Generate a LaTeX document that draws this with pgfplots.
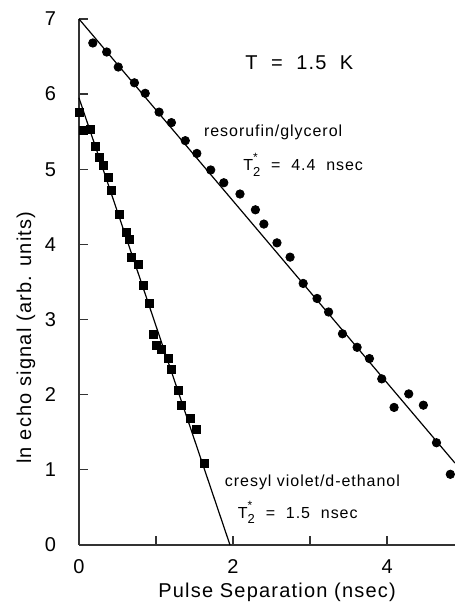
\documentclass[border=0pt]{standalone}
\usepackage{fontspec}
\setmainfont{Liberation Sans}[LetterSpace=6]
\usepackage{pgfplots}
\pgfplotsset{compat=1.18}

% T_2^* with the star stacked above the subscript
\newcommand{\Ttwo}{T\rlap{\raisebox{1.05ex}{\fontsize{6}{6}\selectfont *}}\raisebox{-0.65ex}{\fontsize{6.5}{6.5}\selectfont 2}}

\begin{document}
\begin{tikzpicture}
\begin{axis}[
  scale only axis,
  width=188pt, height=263pt,
  xmin=0, xmax=4.88, ymin=0, ymax=7,
  axis x line=bottom, axis y line=left,
  axis line style={-, draw=black!80, line width=0.8pt},
  tick align=inside,
  major tick length=4.5pt,
  tick style={draw=black!80, line width=0.7pt},
  xtick={0,1,2,3,4}, xticklabels={0,,2,,4},
  ytick={0,1,2,3,4,5,6,7},
  /pgf/number format/assume math mode=true,
  ticklabel style={font=\fontsize{10}{12}\selectfont},
  yticklabel style={xshift=-8pt},
  xticklabel style={yshift=-4pt},
  xlabel={Pulse Separation (nsec)},
  ylabel={ln echo signal (arb. units)},
  label style={font=\fontsize{10}{12}\selectfont},
  xlabel style={at={(rel axis cs:0.527,-0.091)}, anchor=center},
  ylabel style={at={(rel axis cs:-0.141,0.394)}, anchor=center},
  clip=false,
]
% resorufin/glycerol
\addplot[only marks, mark=*, mark size=2.1pt, black] coordinates {
  (0.18,6.68) (0.36,6.56) (0.51,6.36) (0.72,6.15) (0.86,6.01) (1.04,5.76)
  (1.20,5.62) (1.38,5.38) (1.53,5.21) (1.71,4.99) (1.88,4.82) (2.09,4.67)
  (2.29,4.46) (2.40,4.27) (2.57,4.02) (2.74,3.83) (2.91,3.48) (3.09,3.28)
  (3.24,3.10) (3.42,2.81) (3.61,2.63) (3.77,2.48) (3.93,2.21) (4.09,1.83)
  (4.28,2.01) (4.47,1.86) (4.64,1.36) (4.82,0.94)
};
\addplot[black, line width=0.6pt] coordinates {(0,7) (4.88,1.09)};
% cresyl violet/d-ethanol
\addplot[only marks, mark=square*, mark size=2pt, black] coordinates {
  (0.01,5.75) (0.06,5.52) (0.15,5.53) (0.21,5.30) (0.26,5.16) (0.32,5.05)
  (0.38,4.89) (0.42,4.72) (0.52,4.40) (0.61,4.16) (0.65,4.07) (0.68,3.83)
  (0.77,3.74) (0.83,3.46) (0.92,3.22) (0.96,2.80) (1.01,2.65) (1.07,2.60)
  (1.16,2.48) (1.20,2.33) (1.29,2.06) (1.33,1.86) (1.44,1.69) (1.52,1.54)
  (1.63,1.09)
};
\addplot[black, line width=0.6pt] coordinates {(0,5.95) (1.96,0)};

\node[font=\fontsize{10}{12}\selectfont] at (axis cs:2.86,6.42) {T\ \ =\ \ 1.5\ \ K};
\node[font=\fontsize{8}{10}\selectfont] at (axis cs:2.52,5.49) {resorufin/glycerol};
\node[font=\fontsize{8}{10}\selectfont] at (axis cs:2.91,5.06) {\Ttwo\ \ =\ \ 4.4\ \ nsec};
\node[font=\fontsize{8}{10}\selectfont] at (axis cs:3.03,0.83) {cresyl violet/d-ethanol};
\node[font=\fontsize{8}{10}\selectfont] at (axis cs:2.84,0.43) {\Ttwo\ \ =\ \ 1.5\ \ nsec};

\coordinate (bbl) at (rel axis cs:-0.210,-0.118);
\coordinate (btr) at (rel axis cs:1.0,1.036);
\end{axis}
\pgfresetboundingbox
\path[use as bounding box] (bbl) rectangle (btr);
\end{tikzpicture}
\end{document}
